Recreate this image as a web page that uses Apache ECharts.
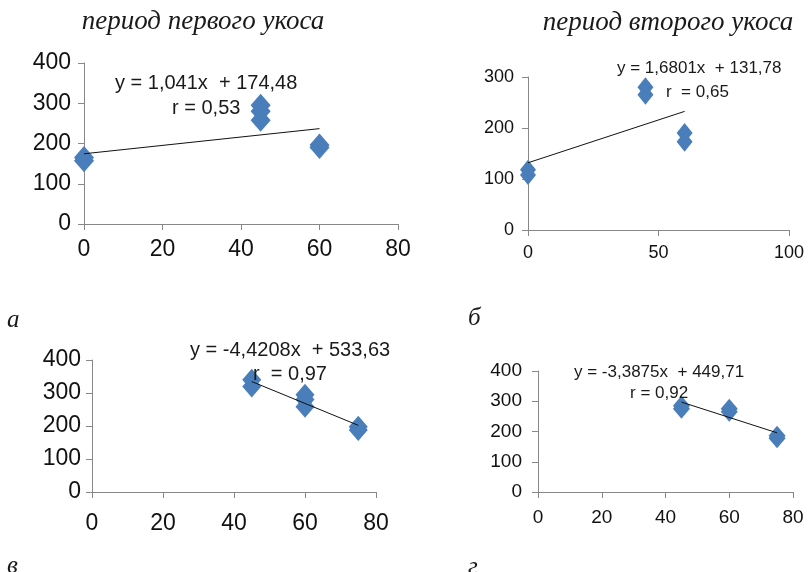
<!DOCTYPE html>
<html><head><meta charset="utf-8">
<script src="https://cdn.jsdelivr.net/npm/echarts@6/dist/echarts.min.js"></script>
<style>html,body{margin:0;padding:0;background:#fff}#c{width:808px;height:572px}</style>
</head><body><div id="c"></div>
<script>
// Panel а: период первого укоса (top-left)
const aX = [0, 0, 45, 45, 45, 60, 60];
const aY = [157, 165, 295, 280, 258, 190, 196];
const aTrend = {slope: 1.041, intercept: 174.48, from: 0, to: 60};
const aEq = ['y = 1,041x  + 174,48', 'r = 0,53'];
// Panel б: период второго укоса (top-right)
const bX = [0, 0, 45, 45, 60, 60];
const bY = [108, 118, 280, 265, 190, 173];
const bTrend = {slope: 1.6801, intercept: 131.78, from: 0, to: 60};
const bEq = ['y = 1,6801x  + 131,78', 'r  = 0,65'];
// Panel в (bottom-left)
const vX = [45, 45, 60, 60, 60, 75, 75];
const vY = [340, 320, 295, 280, 258, 188, 198];
const vTrend = {slope: -4.4208, intercept: 533.63, from: 45, to: 75};
const vEq = ['y = -4,4208x  + 533,63', 'r  = 0,97'];
// Panel г (bottom-right)
const gX = [45, 45, 60, 60, 75, 75];
const gY = [275, 285, 265, 275, 178, 186];
const gTrend = {slope: -3.3875, intercept: 449.71, from: 45, to: 75};
const gEq = ['y = -3,3875x  + 449,71', 'r = 0,92'];

const titles = ['период первого укоса', 'период второго укоса'];
const letters = ['а', 'б', 'в', 'г'];

const panels = [
  {xs: aX, ys: aY, tr: aTrend, grid: {left: 84, top: 63, width: 314, height: 161}, xmax: 80, xint: 20, ymax: 400, fs: 23, sym: [20, 23], xm: 14, ym: 13},
  {xs: bX, ys: bY, tr: bTrend, grid: {left: 528, top: 77, width: 261, height: 153}, xmax: 100, xint: 50, ymax: 300, fs: 18, sym: [16, 20], xm: 14, ym: 14},
  {xs: vX, ys: vY, tr: vTrend, grid: {left: 92, top: 360, width: 284, height: 132}, xmax: 80, xint: 20, ymax: 400, fs: 23, sym: [19, 22], xm: 20, ym: 11},
  {xs: gX, ys: gY, tr: gTrend, grid: {left: 538, top: 371, width: 255, height: 121}, xmax: 80, xint: 20, ymax: 400, fs: 19, sym: [17, 20], xm: 16, ym: 16}
];

const axisColor = '#888888';
const grids = [], xAxes = [], yAxes = [], series = [];
panels.forEach((p, i) => {
  grids.push(p.grid);
  const common = {
    axisLine: {show: true, onZero: false, lineStyle: {color: axisColor, width: 1}},
    axisTick: {show: true, inside: false, length: 6, lineStyle: {color: axisColor}},
    splitLine: {show: false},
    gridIndex: i
  };
  xAxes.push(Object.assign({type: 'value', min: 0, max: p.xmax, interval: p.xint,
    axisLabel: {fontFamily: 'Liberation Sans, Arial', fontSize: p.fs, color: '#111', margin: p.xm, showMaxLabel: true}}, common));
  yAxes.push(Object.assign({type: 'value', min: 0, max: p.ymax, interval: 100,
    axisLabel: {fontFamily: 'Liberation Sans, Arial', fontSize: p.fs, color: '#111', margin: p.ym}}, common));
  series.push({type: 'scatter', xAxisIndex: i, yAxisIndex: i, symbol: 'diamond', symbolSize: p.sym,
    itemStyle: {color: '#4a7ebb', opacity: 1}, data: p.xs.map((x, k) => [x, p.ys[k]]), z: 2});
  const t = p.tr;
  series.push({type: 'line', xAxisIndex: i, yAxisIndex: i, symbol: 'none', silent: true,
    lineStyle: {color: '#111', width: 1}, z: 3,
    data: [[t.from, t.slope * t.from + t.intercept], [t.to, t.slope * t.to + t.intercept]]});
});

function txt(str, x, y, font, align) {
  return {type: 'text', x: x, y: y, z: 10,
    style: {text: str, font: font, fill: '#1a1a1a', textAlign: align || 'left', textVerticalAlign: 'middle'}};
}
const eqFont = s => s + 'px "Liberation Sans", Arial';
const serif = s => 'italic ' + s + 'px "Liberation Serif", "Times New Roman", serif';
const graphic = [
  txt(titles[0], 203, 22, serif(27), 'center'),
  txt(titles[1], 668, 23, serif(27), 'center'),
  txt(letters[0], 7, 320, serif(25)),
  txt(letters[1], 468, 318, serif(25)),
  txt(letters[2], 7, 566, serif(25)),
  txt(letters[3], 468, 567, serif(25)),
  txt(aEq[0], 115, 83, eqFont(20)),
  txt(aEq[1], 172, 108, eqFont(20)),
  txt(bEq[0], 617, 68, eqFont(17)),
  txt(bEq[1], 666, 92, eqFont(17)),
  txt(vEq[0], 190, 350, eqFont(20)),
  txt(vEq[1], 253, 374, eqFont(20)),
  txt(gEq[0], 574, 372, eqFont(17)),
  txt(gEq[1], 630, 393, eqFont(17))
];

const chart = echarts.init(document.getElementById('c'), null, {renderer: 'canvas'});
chart.setOption({animation: false, backgroundColor: '#fff', grid: grids, xAxis: xAxes, yAxis: yAxes, series: series, graphic: graphic});
</script></body></html>
